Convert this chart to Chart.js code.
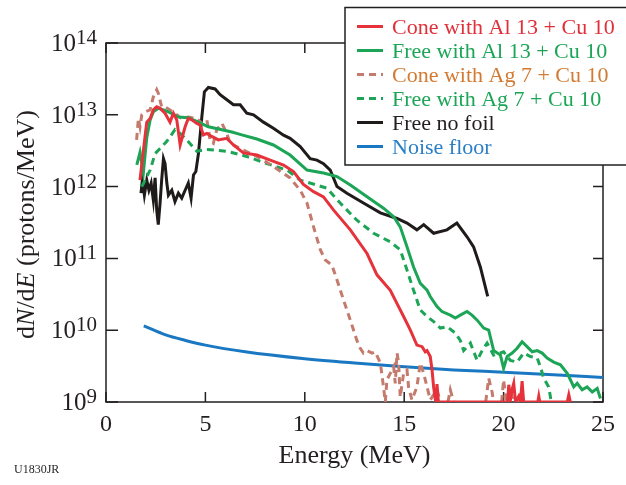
<!DOCTYPE html>
<html>
<head>
<meta charset="utf-8">
<script src="https://cdn.jsdelivr.net/npm/chart.js@4.4.1/dist/chart.umd.min.js"></script>
<style>
  html, body { margin: 0; padding: 0; background: #fff; }
  canvas { display: block; }
</style>
</head>
<body>
<canvas id="spectrum" width="626" height="485"></canvas>
<script>
// proton spectra, energy in MeV, dN/dE in protons/MeV
const coneAlE = [1.71,1.88,2.05,2.22,2.38,2.55,2.72,2.97,3.22,3.39,3.56,3.73,3.98,4.14,4.32,4.57,4.73,4.90,5.07,5.32,5.65,6.08,6.41,6.91,7.59,8.26,8.93,9.43,9.93,10.44,10.94,11.45,12.29,13.13,13.63,14.30,14.64,14.97,15.31,15.64,15.90,16.06,16.15,16.31,16.40,16.48,16.57,16.60,16.65,16.72,20.20,20.26,20.35,20.43,20.51,20.60,20.76,20.85,20.93,21.01,21.72,21.77,21.82,23.20,23.28,23.36];
const coneAlN = [1.23e12,3.2e12,7.9e12,8.9e12,1.17e13,1.29e13,1.23e13,1.05e13,7.9e12,1.05e13,8.5e12,3.8e12,6.8e12,8.9e12,8.5e12,7.6e12,7.2e12,5.25e12,5.5e12,5.0e12,4.47e12,4.7e12,3.8e12,2.95e12,2.75e12,2.34e12,2.0e12,1.62e12,1.07e12,8.5e11,7.2e11,4.7e11,2.5e11,1.17e11,5.9e10,3.6e10,2.34e10,1.55e10,1.0e10,6.2e9,5.9e9,5.0e9,5.2e9,4.3e9,2.8e9,1.62e9,1.07e9,1e9,1.78e9,1e9,1e9,1.74e9,1.1e9,1.5e9,1.82e9,1e9,1.2e9,1e9,1.95e9,1e9,1e9,1.2e9,1e9,1e9,1.26e9,1e9];

const freeAlE = [1.55,1.71,1.88,2.05,2.22,2.38,2.63,2.89,3.22,3.64,4.14,4.65,5.15,5.83,6.33,6.83,7.59,8.42,9.26,10.11,10.94,11.62,12.29,13.13,13.96,14.47,14.80,15.14,15.47,15.81,16.15,16.31,16.65,16.90,17.32,17.57,17.82,18.16,18.41,18.67,19.00,19.25,19.50,19.84,20.00,20.18,20.43,20.68,20.93,21.18,21.44,21.69,21.94,22.19,22.52,22.86,23.20,23.36,23.53,23.70,23.95,24.20,24.46,24.71,24.87];
const freeAlN = [2.0e12,3.0e12,1.55e12,4.8e12,8.5e12,1.1e13,1.23e13,1.17e13,1.07e13,9.3e12,9.1e12,7.9e12,6.8e12,6.2e12,5.75e12,5.25e12,4.6e12,3.8e12,2.75e12,1.7e12,1.55e12,1.38e12,1.05e12,7.2e11,5.0e11,3.8e11,2.75e11,1.45e11,7.6e10,4.5e10,3.6e10,2.95e10,2.14e10,1.82e10,1.62e10,1.48e10,1.62e10,1.82e10,1.62e10,1.38e10,1.07e10,1.0e10,5.2e9,4.5e9,2.95e9,4.3e9,4.8e9,5.6e9,6.9e9,5.9e9,5.0e9,5.2e9,4.8e9,4.1e9,3.6e9,3.3e9,2.5e9,2.04e9,1.62e9,1.82e9,1.48e9,1.62e9,1.38e9,1.55e9,1.12e9];

const coneAgE = [1.54,1.63,1.71,1.80,1.96,2.22,2.38,2.55,2.63,2.80,2.97,3.22,3.47,3.81,4.14,4.57,4.82,5.07,5.15,5.24,5.40,5.57,5.83,6.08,6.24,6.75,7.59,8.42,9.26,9.77,10.11,10.44,10.78,11.03,11.36,11.62,11.95,12.29,12.62,12.79,12.95,13.13,13.38,13.54,13.80,13.96,14.05,14.13,14.30,14.47,14.55,14.64,14.72,14.80,14.97,15.14,15.22,15.39,15.64,15.81,15.98,16.15,16.31,16.65,16.82,17.00,17.20,17.32,17.49,18.00,19.10,19.25,19.42,19.50,19.70,19.90,20.00,20.14,20.34,20.50,20.60,20.75,20.85,21.00];
const coneAgN = [4.47e12,8.9e12,6.8e12,1.0e13,1.1e13,1.17e13,1.78e13,2.24e13,2.0e13,1.29e13,1.29e13,1.17e13,1.05e13,8.9e12,9.3e12,8.9e12,7.6e12,8.5e12,6.5e12,4.27e12,4.0e12,6.2e12,7.6e12,5.5e12,4.0e12,3.4e12,2.63e12,1.91e12,1.32e12,8.9e11,5.9e11,2.75e11,1.32e11,9.5e10,8.1e10,5.0e10,2.63e10,1.38e10,7.2e9,5.6e9,4.8e9,5.2e9,4.8e9,5.0e9,3.5e9,1.62e9,1e9,2.04e9,2.5e9,3.1e9,1.82e9,4.8e9,3.5e9,1.17e9,2.5e9,2.8e9,1.62e9,1.07e9,1.62e9,3.5e9,2.5e9,1.62e9,1.07e9,1.48e9,1e9,null,1e9,1.48e9,1e9,null,1e9,2.14e9,1.38e9,1e9,null,1e9,2.04e9,1e9,1.48e9,1e9,null,1e9,1.38e9,1e9];

const freeAgE = [1.80,2.22,2.47,2.72,3.06,3.47,3.73,4.06,4.57,5.07,6.08,7.08,8.09,9.10,9.77,10.61,11.11,11.78,12.62,13.46,14.30,14.80,15.14,15.47,15.81,16.15,16.48,16.82,17.16,17.57,17.82,17.99,18.33,18.67,18.92,19.17,19.50,20.00,20.34,20.68,21.01,21.35,21.69,21.85,22.02,22.27,22.40];
const freeAgN = [1.0e12,1.7e12,2.88e12,3.4e12,4.27e12,6.2e12,5.5e12,4.47e12,3.1e12,3.3e12,3.1e12,2.63e12,2.09e12,1.7e12,1.23e12,1.05e12,9.5e11,5.9e11,3.4e11,2.24e11,1.7e11,1.32e11,6.9e10,3.6e10,1.91e10,1.55e10,1.32e10,1.07e10,1.12e10,9.1e9,7.2e9,5.2e9,6.6e9,3.8e9,5.2e9,6.6e9,4.5e9,5.0e9,3.8e9,3.6e9,4.8e9,4.3e9,4.1e9,3.1e9,2.14e9,1.62e9,1.0e9];

const noFoilE = [1.76,1.83,1.93,2.05,2.16,2.27,2.38,2.47,2.55,2.63,2.72,2.80,2.89,2.97,3.06,3.14,3.31,3.47,3.64,3.81,3.98,4.14,4.28,4.40,4.52,4.65,4.82,4.95,5.15,5.49,5.74,6.08,6.41,6.75,7.08,7.42,7.92,8.42,8.93,9.26,9.77,10.27,10.61,10.94,11.28,11.62,12.12,12.95,13.80,14.64,15.14,15.64,15.98,16.48,17.15,17.65,18.16,18.49,18.83,19.20];
const noFoilN = [8.1e11,1.23e12,7.6e11,1.23e12,8.9e11,1.12e12,6.5e11,1.32e12,4.7e11,2.95e11,5.9e11,1.23e12,2.45e12,2.09e12,1.12e12,7.6e11,8.9e11,6.2e11,8.1e11,6.9e11,8.9e11,1.12e12,6.9e11,1.45e12,1.62e12,2.88e12,9.3e12,2.09e13,2.4e13,2.29e13,1.91e13,1.62e13,1.38e13,1.38e13,1.05e13,1.0e13,7.9e12,6.5e12,5.2e12,4.7e12,3.6e12,2.45e12,2.34e12,2.09e12,1.7e12,1.0e12,8.1e11,5.9e11,4.3e11,3.6e11,3.1e11,2.5e11,2.95e11,2.24e11,2.5e11,3.1e11,2.0e11,1.45e11,7.6e10,2.95e10];

const noiseE = [1.9,3,4,5,7,10,13,15,17.5,20,22.5,25];
const noiseN = [1.15e10,8.6e9,7.2e9,6.2e9,5.0e9,4.0e9,3.4e9,3.1e9,2.8e9,2.6e9,2.4e9,2.2e9];

const energyTicks = [0, 5, 10, 15, 20, 25];
const decadeExps = [9, 10, 11, 12, 13, 14];

const serif = "'Liberation Serif', 'Times New Roman', serif";
const ink = '#231f20';

function pts(xs, ys) {
  return xs.map((x, i) => ({ x: x, y: ys[i] }));
}

const datasets = [
  { label: 'Cone with Al 13 + Cu 10', data: pts(coneAlE, coneAlN), borderColor: '#e5323b', textColor: '#e0303a', borderDash: [] },
  { label: 'Free with Al 13 + Cu 10', data: pts(freeAlE, freeAlN), borderColor: '#1ca556', textColor: '#1ca556', borderDash: [] },
  { label: 'Cone with Ag 7 + Cu 10', data: pts(coneAgE, coneAgN), borderColor: '#c47a6c', textColor: '#d27a32', borderDash: [7, 5] },
  { label: 'Free with Ag 7 + Cu 10', data: pts(freeAgE, freeAgN), borderColor: '#1ca556', textColor: '#1ca556', borderDash: [7, 5] },
  { label: 'Free no foil', data: pts(noFoilE, noFoilN), borderColor: '#1f1b1a', textColor: ink, borderDash: [] },
  { label: 'Noise floor', data: pts(noiseE, noiseN), borderColor: '#1a78c2', textColor: '#2a7fc6', borderDash: [], cubicInterpolationMode: 'monotone' }
];
datasets.forEach(d => { d.borderWidth = 3; d.pointRadius = 0; d.fill = false; });

// frame, inward ticks and y labels with superscripts
const framePlugin = {
  id: 'frame',
  beforeDatasetsDraw(chart) {
    const { ctx, chartArea: a, scales: { x, y } } = chart;
    ctx.save();
    ctx.strokeStyle = ink;
    ctx.lineWidth = 1.5;
    ctx.strokeRect(a.left, a.top, a.right - a.left, a.bottom - a.top);
    ctx.beginPath();
    energyTicks.forEach(v => {
      const px = x.getPixelForValue(v);
      ctx.moveTo(px, a.bottom); ctx.lineTo(px, a.bottom - 10);
      ctx.moveTo(px, a.top); ctx.lineTo(px, a.top + 10);
    });
    decadeExps.forEach(k => {
      const py = y.getPixelForValue(Math.pow(10, k));
      ctx.moveTo(a.left, py); ctx.lineTo(a.left + 12, py);
      ctx.moveTo(a.right, py); ctx.lineTo(a.right - 10, py);
    });
    ctx.stroke();

    ctx.fillStyle = ink;
    ctx.textBaseline = 'alphabetic';
    decadeExps.forEach(k => {
      const py = y.getPixelForValue(Math.pow(10, k));
      ctx.font = '21px ' + serif;
      ctx.textAlign = 'right';
      const ew = ctx.measureText(String(k)).width;
      ctx.fillText(String(k), 97, py + 1);
      ctx.font = '25px ' + serif;
      ctx.fillText('10', 97 - ew, py + 8);
    });
    ctx.restore();
  },
  afterDraw(chart) {
    const { ctx, chartArea: a } = chart;
    ctx.save();

    // y axis title with italic N and E
    const parts = [['d', ''], ['N', 'italic '], ['/d', ''], ['E', 'italic '], [' (protons/MeV)', '']];
    let total = 0;
    parts.forEach(p => { ctx.font = p[1] + '26px ' + serif; total += ctx.measureText(p[0]).width; });
    ctx.translate(34, (a.top + a.bottom) / 2 + 2);
    ctx.rotate(-Math.PI / 2);
    ctx.fillStyle = ink;
    ctx.textAlign = 'left';
    ctx.textBaseline = 'alphabetic';
    let cx = -total / 2;
    parts.forEach(p => {
      ctx.font = p[1] + '26px ' + serif;
      ctx.fillText(p[0], cx, 0);
      cx += ctx.measureText(p[0]).width;
    });
    ctx.setTransform(1, 0, 0, 1, 0, 0);

    // figure code
    ctx.font = '12px ' + serif;
    ctx.fillStyle = ink;
    ctx.fillText('U1830JR', 14, 473);

    // legend box
    ctx.fillStyle = '#fff';
    ctx.fillRect(345, 7.5, 300, 157.5);
    ctx.strokeStyle = ink;
    ctx.lineWidth = 1.5;
    ctx.strokeRect(345, 7.5, 300, 157.5);
    chart.data.datasets.forEach((d, i) => {
      const ly = 26.5 + i * 24;
      ctx.beginPath();
      ctx.setLineDash(d.borderDash);
      ctx.strokeStyle = d.borderColor;
      ctx.lineWidth = 3;
      ctx.moveTo(357, ly);
      ctx.lineTo(383, ly);
      ctx.stroke();
      ctx.setLineDash([]);
      ctx.font = '22px ' + serif;
      ctx.fillStyle = d.textColor;
      ctx.fillText(d.label, 392, ly + 7.5);
    });
    ctx.restore();
  }
};

new Chart(document.getElementById('spectrum'), {
  type: 'line',
  data: { datasets: datasets },
  options: {
    responsive: false,
    animation: false,
    devicePixelRatio: 1,
    layout: { padding: { left: 0, top: 43, right: 23, bottom: 0 } },
    plugins: { legend: { display: false }, tooltip: { enabled: false } },
    scales: {
      x: {
        type: 'linear',
        min: 0,
        max: 25,
        afterFit(s) { s.height = 83; },
        afterBuildTicks(s) { s.ticks = energyTicks.map(v => ({ value: v })); },
        ticks: { color: ink, font: { family: serif, size: 24 }, padding: 8, maxRotation: 0, autoSkip: false },
        grid: { display: false, drawTicks: false },
        border: { display: false },
        title: { display: true, text: 'Energy (MeV)', color: ink, font: { family: serif, size: 26 }, padding: { top: 0, bottom: 13 } }
      },
      y: {
        type: 'logarithmic',
        min: 1e9,
        max: 1e14,
        afterFit(s) { s.width = 106; },
        ticks: { display: false },
        grid: { display: false, drawTicks: false },
        border: { display: false }
      }
    }
  },
  plugins: [framePlugin]
});
</script>
</body>
</html>
